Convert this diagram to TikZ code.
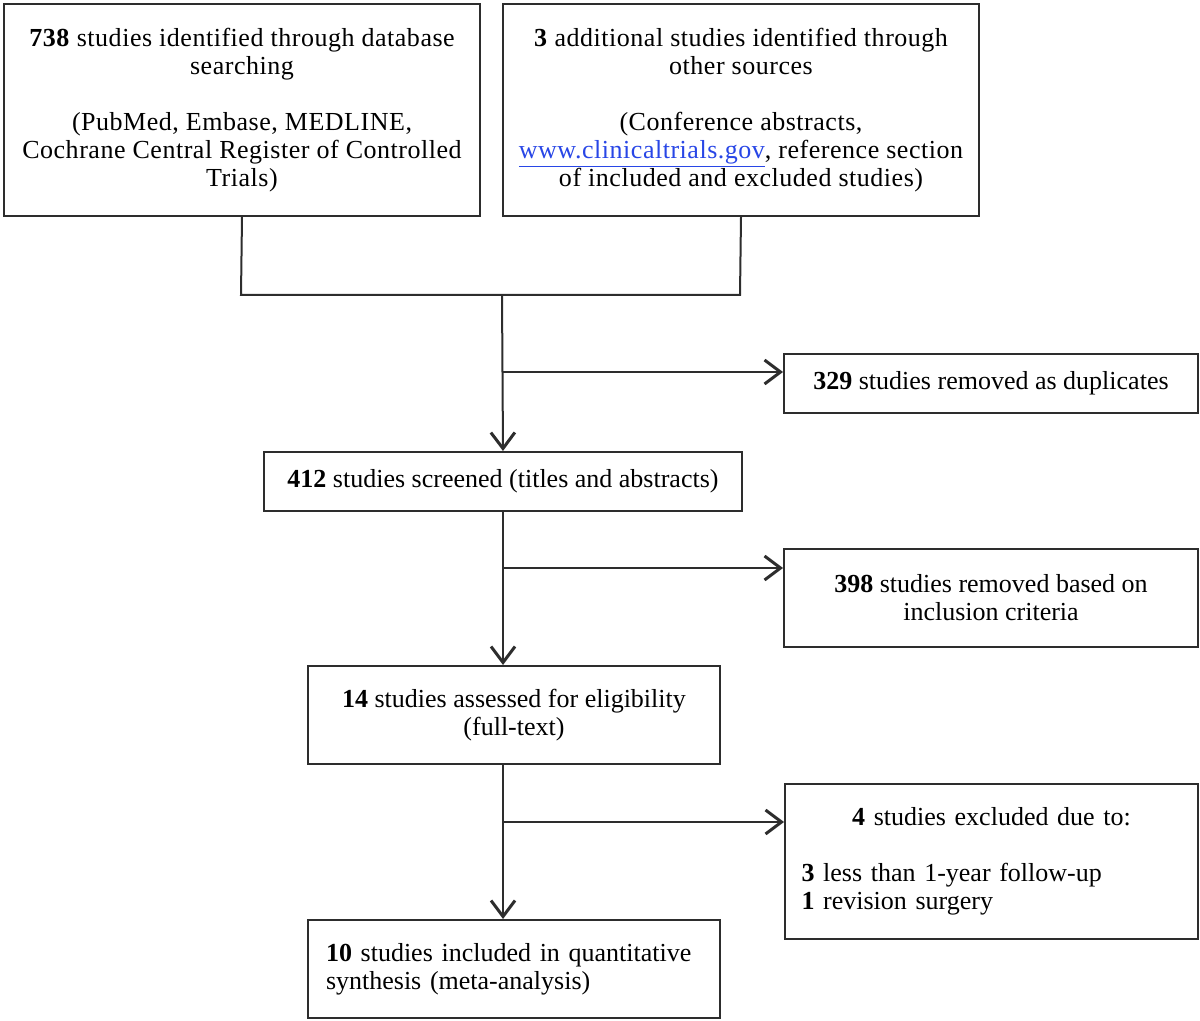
\documentclass[tikz,border=0pt]{standalone}
\usepackage{fontspec}
\setmainfont{Liberation Serif}
\usetikzlibrary{arrows.meta}
\definecolor{linkblue}{RGB}{40,70,230}
\definecolor{boxline}{RGB}{45,45,45}
\begin{document}
\begin{tikzpicture}[x=0.5pt,y=-0.5pt,
  every node/.style={font=\fontsize{13}{14}\selectfont},
  flowbox/.style={draw=boxline,line width=1pt,rectangle,inner sep=0pt,anchor=north west,align=center},
  topbox/.style={flowbox,font=\fontsize{13}{14}\selectfont\addfontfeature{LetterSpace=2}},
  conn/.style={draw=boxline,line width=1pt},
  arr/.style={conn,-{Straight Barb[length=8pt,width=12pt,line width=1.5pt]}}
]
\useasboundingbox (0,0) rectangle (1200,1021);
% boxes
\node[topbox,minimum width=238pt,minimum height=106pt] (b1) at (3,3)
  {\textbf{738} studies identified through database\\ searching\\[14pt]
   (PubMed, Embase, MEDLINE,\\ Cochrane Central Register of Controlled\\ Trials)};
\node[topbox,minimum width=238pt,minimum height=106pt] (b2) at (502,3)
  {\textbf{3} additional studies identified through\\ other sources\\[14pt]
   (Conference abstracts,\\ \textcolor{linkblue}{\underline{www.clinicaltrials.gov}}, reference section\\ of included and excluded studies)};
\node[flowbox,minimum width=207pt,minimum height=29.5pt] (b329) at (783,353)
  {\textbf{329} studies removed as duplicates};
\node[flowbox,minimum width=239pt,minimum height=29.5pt] (b412) at (263,451)
  {\textbf{412} studies screened (titles and abstracts)};
\node[flowbox,minimum width=207pt,minimum height=49pt] (b398) at (783,548)
  {\textbf{398} studies removed based on\\ inclusion criteria};
\node[flowbox,minimum width=206pt,minimum height=49pt] (b14) at (307,665)
  {\textbf{14} studies assessed for eligibility\\ (full-text)};
\node[flowbox,minimum width=206.5pt,minimum height=77.5pt,text width=190pt,align=left] (b4) at (784,783)
  {\makebox[\linewidth]{\textbf{4} studies excluded due to:}\\[14pt]
   \textbf{3} less than 1-year follow-up\\ \textbf{1} revision surgery};
\node[flowbox,minimum width=206pt,minimum height=49pt,text width=188pt,align=left] (b10) at (307,919)
  {\textbf{10} studies included in quantitative\\ synthesis (meta-analysis)};
% junction coordinates
\coordinate (jl) at (241,295);
\coordinate (jr) at (740,295);
\coordinate (jm) at (502,295);
\coordinate (s1) at (503,372);
\coordinate (s2) at (503,568);
\coordinate (s3) at (503,822);
% connectors
\draw[conn] (b1.south) -- (jl) -- (jr) -- (b2.south);
\draw[arr] (jm) -- (b412.north);
\draw[arr] (s1) -- (b329.west |- s1);
\draw[arr] (b412.south -| s2) -- (b14.north -| s2);
\draw[arr] (s2) -- (b398.west |- s2);
\draw[arr] (b14.south -| s3) -- (b10.north -| s3);
\draw[arr] (s3) -- (b4.west |- s3);
\end{tikzpicture}
\end{document}
